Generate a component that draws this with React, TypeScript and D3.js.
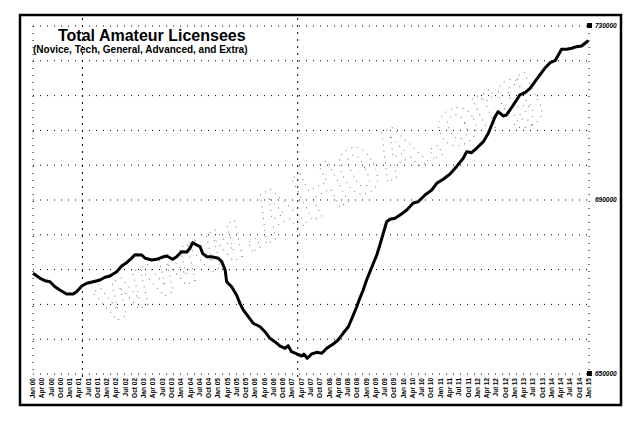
import { useMemo } from 'react';
import * as d3 from 'd3';

// months after Jan 2000
const months = [
  0, 2.3, 3.9, 5.5, 7.1, 8.7, 10.9, 13.0, 14.1, 15.8, 17.4, 19.5, 21.7, 23.3, 24.9, 27.1, 28.7, 30.3,
  31.9, 33.0, 35.2, 36.3, 38.4, 40.0, 41.7, 43.3, 45.2, 46.5, 48.1, 49.8, 50.8, 51.7, 53.0, 54.1, 54.9,
  56.2, 57.8, 60.0, 61.1, 62.2, 62.7, 64.3, 65.9, 67.0, 68.1, 69.7, 71.3, 73.5, 75.1, 76.7, 78.3, 79.9,
  81.6, 82.6, 83.7, 85.4, 87.0, 87.7, 88.8, 90.2, 91.8, 93.5, 95.1, 97.2, 98.8, 100.4, 102.1, 103.7,
  104.8, 105.8, 106.9, 108.0, 109.1, 110.2, 111.3, 112.3, 113.4, 114.5, 115.6, 117.2, 119.3, 121.0,
  123.1, 124.7, 125.3, 126.9, 129.1, 130.7, 132.8, 135.0, 137.1, 139.3, 140.4, 142.0, 143.6, 145.8,
  147.4, 148.5, 149.6, 150.6, 152.2, 153.3, 155.0, 156.0, 157.6, 159.3, 160.9, 162.5, 164.1, 165.7,
  167.4, 169.0, 170.4, 171.1, 172.8, 174.4, 176.0, 177.6, 178.7, 179.8,
];

const licensees = [
  673150, 672000, 671450, 671220, 670070, 669310, 668390, 668390, 668920, 670230, 670850, 671220, 671610,
  672230, 672530, 673520, 674830, 675590, 676600, 677430, 677360, 676600, 676210, 676370, 676830, 677130,
  676370, 676970, 678120, 678050, 678900, 680190, 679660, 679270, 677750, 676970, 676970, 676600, 675820,
  673910, 671220, 670070, 668160, 666250, 664710, 663170, 661660, 660870, 659720, 658210, 657430, 656440,
  655910, 656510, 655130, 654600, 654140, 654600, 653610, 654600, 654990, 654760, 655910, 656900, 657820,
  659360, 660870, 663560, 665470, 667400, 669310, 671610, 673520, 675450, 677360, 679660, 682350, 685010,
  685570, 685800, 686780, 687700, 689310, 689610, 690000, 691150, 692300, 693840, 694760, 695980, 697660,
  699590, 701110, 700880, 701890, 703410, 705340, 707250, 709160, 710310, 709320, 709550, 711320, 712370,
  714140, 714670, 715680, 717200, 718740, 720280, 721570, 722030, 723730, 724650, 724650, 724880, 725250,
  725410, 726030, 726630,
];

const startDate = new Date(2000, 0, 1);
const tickMonths = d3.range(0, 181, 3);
const tickLabels = tickMonths.map((m) => d3.timeFormat('%b %y')(d3.timeMonth.offset(startDate, m)));

const markerMonths = [16, 85.7];
const yGrid = d3.range(650000, 730001, 8000);
const rightLabels = [650000, 690000, 730000];

const title = 'Total Amateur Licensees';
const subtitle = '(Novice, Tech, General, Advanced, and Extra)';
const watermark = 'www.AH0A.org';

const W = 638;
const H = 427;

export default function App() {
  const x = useMemo(() => d3.scaleLinear().domain([0, 180]).range([33, 589]), []);
  const y = useMemo(() => d3.scaleLinear().domain([650000, 730000]).range([374, 26]), []);

  const line = d3
    .line<number>()
    .x((_, i) => x(months[i]))
    .y((d) => y(d));

  const font = '"Liberation Sans", Arial, sans-serif';

  return (
    <svg
      width={W}
      height={H}
      viewBox={`0 0 ${W} ${H}`}
      style={{ position: 'absolute', left: 0, top: 0, background: '#fff' }}
      fontFamily={font}
    >
      <rect x={0} y={0} width={W} height={H} fill="#fff" />

      {/* watermark */}
      <text
        x={320}
        y={215}
        textAnchor="middle"
        fontSize={68}
        fontWeight="bold"
        fill="none"
        stroke="#000"
        strokeWidth={0.9}
        strokeDasharray="1 5"
        opacity={0.6}
        transform="rotate(-27 320 200)"
      >
        {watermark}
      </text>

      {/* horizontal grid */}
      {yGrid.map((v) => (
        <line
          key={v}
          x1={x(0)}
          x2={x(180)}
          y1={y(v)}
          y2={y(v)}
          stroke="#000"
          strokeWidth={1}
          strokeDasharray="1 6"
        />
      ))}

      {/* plot edges */}
      {[0, 180].map((m) => (
        <line
          key={m}
          x1={x(m)}
          x2={x(m)}
          y1={y(730000)}
          y2={y(650000)}
          stroke="#000"
          strokeWidth={1}
          strokeDasharray="1 6"
        />
      ))}

      {/* vertical markers */}
      {markerMonths.map((m) => (
        <line
          key={m}
          x1={x(m)}
          x2={x(m)}
          y1={18}
          y2={y(650000) + 6}
          stroke="#000"
          strokeWidth={1}
          strokeDasharray="2 5"
        />
      ))}

      {/* series */}
      <path d={line(licensees) ?? ''} fill="none" stroke="#000" strokeWidth={3} strokeLinejoin="round" />

      {/* title */}
      <text x={58} y={41} fontSize={16} fontWeight="bold" fill="#000">
        {title}
      </text>
      <text x={33} y={53} fontSize={10} fontWeight="bold" fill="#000">
        {subtitle}
      </text>

      {/* x labels */}
      {tickMonths.map((m, i) => (
        <text
          key={m}
          transform={`translate(${x(m) + 2},${378}) rotate(-90)`}
          textAnchor="end"
          fontSize={6.5}
          fontWeight="bold"
          fill="#000"
        >
          {tickLabels[i]}
        </text>
      ))}

      {/* right labels */}
      {rightLabels.map((v, i) => (
        <g key={v}>
          {i !== 1 && <rect x={587} y={y(v) - 3} width={5} height={5} fill="#000" />}
          <text x={595} y={y(v) + 2} fontSize={6.5} fontStyle="italic" fontWeight="bold" fill="#000">
            {v}
          </text>
        </g>
      ))}

      {/* frame */}
      <rect x={20} y={15} width={601} height={390} fill="none" stroke="#000" strokeWidth={2.5} />
    </svg>
  );
}
